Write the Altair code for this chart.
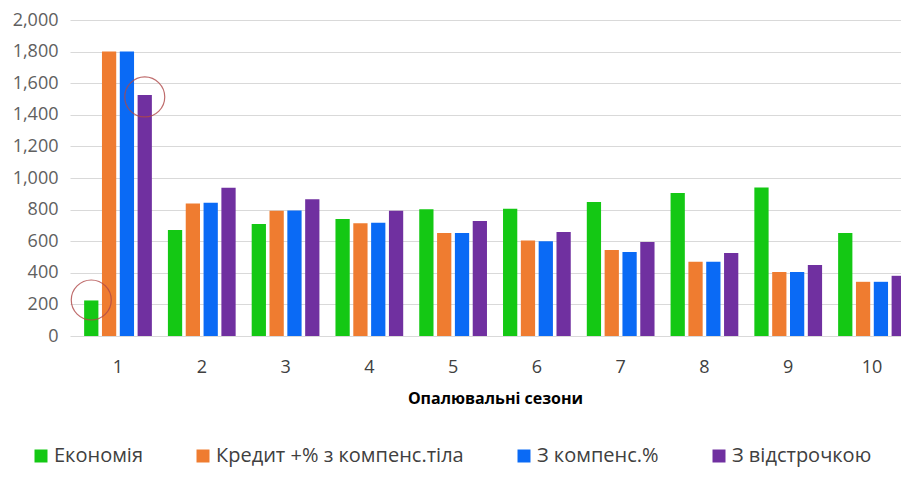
import altair as alt
import pandas as pd

seasons = ["1", "2", "3", "4", "5", "6", "7", "8", "9", "10"]
series_names = ["Економія", "Кредит +% з компенс.тіла", "З компенс.%", "З відстрочкою"]
economy = [225, 671, 709, 740, 802, 805, 848, 905, 940, 652]
credit = [1800, 838, 793, 713, 652, 605, 544, 470, 405, 343]
compens = [1800, 843, 795, 717, 652, 600, 532, 470, 405, 343]
deferral = [1525, 939, 865, 793, 728, 658, 595, 525, 450, 381]
colors = ["#14C814", "#EF7C30", "#0A6AF5", "#7030A0"]

# hand-drawn red ellipses in the original (annotation)
ann_seasons = ["1", "1"]
ann_series = ["Економія", "З відстрочкою"]
ann_values = [228, 1513]

rows = []
for name, vals in zip(series_names, [economy, credit, compens, deferral]):
    for s, v in zip(seasons, vals):
        rows.append({"season": s, "series": name, "value": v})
df = pd.DataFrame(rows)
ann = pd.DataFrame({"season": ann_seasons, "series": ann_series, "value": ann_values})

x_enc = alt.X(
    "season:N",
    sort=seasons,
    title="Опалювальні сезони",
    scale=alt.Scale(range=[0, 850], paddingInner=0, paddingOuter=0.073),
    axis=alt.Axis(
        labelAngle=0, ticks=False, domain=False,
        labelFont="Open Sans", labelFontSize=18, labelColor="#404040", labelPadding=22,
        titleFont="Open Sans", titleFontSize=16, titleFontWeight="bold", titleColor="#000000",
        titlePadding=14,
    ),
)
y_enc = alt.Y(
    "value:Q",
    scale=alt.Scale(domain=[0, 2000]),
    axis=alt.Axis(
        values=list(range(0, 2001, 200)), format=",.0f", title=None, ticks=False, domain=False,
        labelFont="Open Sans", labelFontSize=18, labelColor="#606060", labelPadding=12,
        gridColor="#D9D9D9", gridWidth=1.2,
    ),
)
xo_enc = alt.XOffset("series:N", sort=series_names,
                     scale=alt.Scale(domain=series_names, paddingInner=0.2, paddingOuter=0.45))

bars = alt.Chart(df).mark_bar().encode(
    x=x_enc,
    y=y_enc,
    xOffset=xo_enc,
    color=alt.Color(
        "series:N", sort=series_names,
        scale=alt.Scale(domain=series_names, range=colors),
        legend=alt.Legend(
            orient="none", legendX=-39, legendY=426, direction="horizontal", title=None,
            symbolType="square", symbolSize=169, symbolStrokeWidth=0, symbolOpacity=1,
            labelFont="Open Sans", labelFontSize=20, labelColor="#404040", labelLimit=500,
            columnPadding=50, labelOffset=3,
        ),
    ),
)

circles = alt.Chart(ann).mark_point(
    shape="circle", filled=False, size=1600, stroke="#B04848", strokeWidth=1.2, opacity=0.8
).encode(x=x_enc, y=y_enc, xOffset=xo_enc)

chart = alt.layer(bars, circles).properties(
    width=831,
    height=316,
    autosize=alt.AutoSizeParams(type="none"),
    padding={"left": 62, "top": 12, "right": 0, "bottom": 133},
    background="white",
).configure_view(stroke=None)

chart.save("out.html", embed_options={"renderer": "svg", "actions": False})
